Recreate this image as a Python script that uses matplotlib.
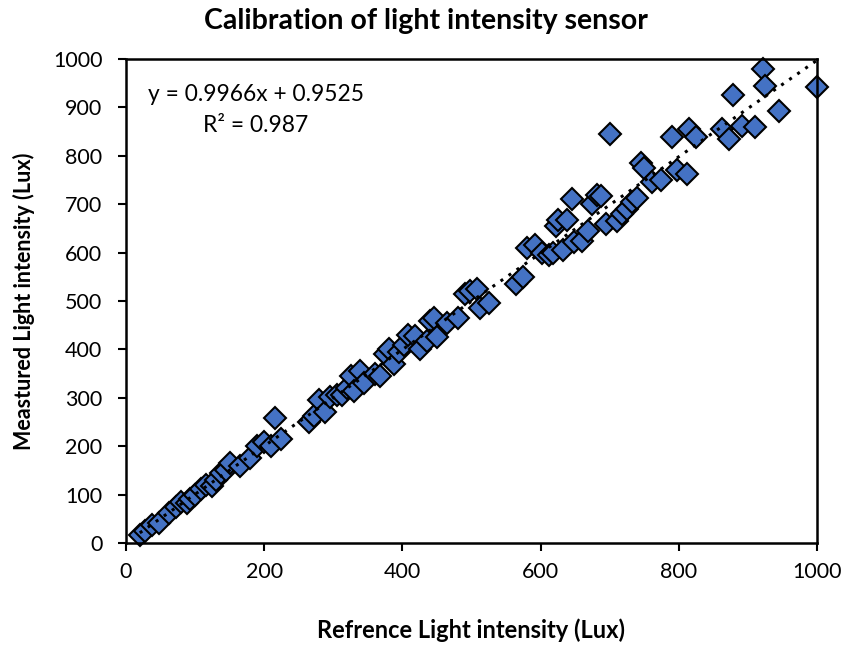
import matplotlib
matplotlib.use("Agg")
import matplotlib.pyplot as plt
import numpy as np

plt.rcParams['font.family'] = ['Lato', 'DejaVu Sans']

# reference sensor reading (Lux)
ref_lux = [20, 28, 38, 48, 62, 72, 80, 88, 92, 100, 108, 116, 124, 130, 138, 145,
           150, 165, 180, 190, 200, 210, 215, 225, 265, 272, 280, 288, 295, 305,
           312, 320, 325, 330, 338, 345, 360, 368, 375, 380, 388, 395, 402, 408,
           418, 425, 435, 440, 446, 450, 465, 480, 490, 498, 508, 512, 525,
           565, 575, 580, 592, 602, 612, 618, 622, 625, 632, 638, 645, 648, 660,
           668, 675, 682, 688, 695, 700, 710, 718, 725, 732, 740, 745, 750, 762,
           775, 790, 798, 812, 815, 825, 862, 872, 878, 892, 910, 922, 925, 945, 1000]
# measured sensor reading (Lux)
meas_lux = [17, 25, 38, 42, 62, 75, 85, 82, 90, 100, 112, 120, 118, 130, 145, 150,
            165, 160, 175, 200, 208, 200, 258, 215, 250, 262, 295, 270, 302, 305,
            305, 320, 345, 315, 355, 330, 350, 345, 390, 400, 370, 395, 410, 430,
            428, 400, 418, 458, 465, 425, 455, 465, 515, 520, 525, 485, 495,
            535, 550, 610, 615, 600, 595, 600, 655, 668, 605, 668, 710, 622, 625,
            645, 700, 720, 718, 660, 845, 665, 680, 690, 705, 712, 785, 775, 745,
            750, 840, 770, 762, 855, 840, 855, 835, 925, 862, 860, 980, 945, 892, 942]

slope = 0.9966
intercept = 0.9525
r2 = 0.987

fig = plt.figure(figsize=(8.51, 6.53), dpi=100)
ax = fig.add_axes([0.148, 0.1685, 0.812, 0.741])

xs = np.array([min(ref_lux), max(ref_lux)])
ax.plot(xs, slope * xs + intercept, color='black', linestyle=(0, (1, 2.2)),
        linewidth=2.2, zorder=3)
ax.plot(ref_lux, meas_lux, linestyle='none', marker='D', markersize=11.5,
        markerfacecolor='#4472C4', markeredgecolor='black', markeredgewidth=1.5,
        zorder=2, clip_on=False)

ax.set_xlim(0, 1000)
ax.set_ylim(0, 1000)
ax.set_xticks(range(0, 1001, 200))
ax.set_yticks(range(0, 1001, 100))
ax.tick_params(direction='out', length=6, width=1.5, labelsize=15.5)
ax.tick_params(axis='x', pad=8)
ax.tick_params(axis='y', pad=11)
for s in ax.spines.values():
    s.set_linewidth(1.8)

# title sits centred on the whole figure, not on the axes
fig.text(0.5, 0.955, 'Calibration of light intensity sensor', fontsize=20.5,
         fontweight='bold', ha='center', va='baseline')
ax.set_xlabel('Refrence Light intensity (Lux)', fontsize=17, fontweight='bold',
              labelpad=26)
ax.set_ylabel('Meastured Light intensity (Lux)', fontsize=15.5, fontweight='bold',
              labelpad=13)

ax.text(0.032, 0.926, 'y = %.4fx + %.4f' % (slope, intercept), transform=ax.transAxes,
        fontsize=16.4, va='center')
ax.text(0.111, 0.862, 'R² = %.3f' % r2, transform=ax.transAxes,
        fontsize=16.4, va='center')

fig.savefig('out.png', dpi=100)
